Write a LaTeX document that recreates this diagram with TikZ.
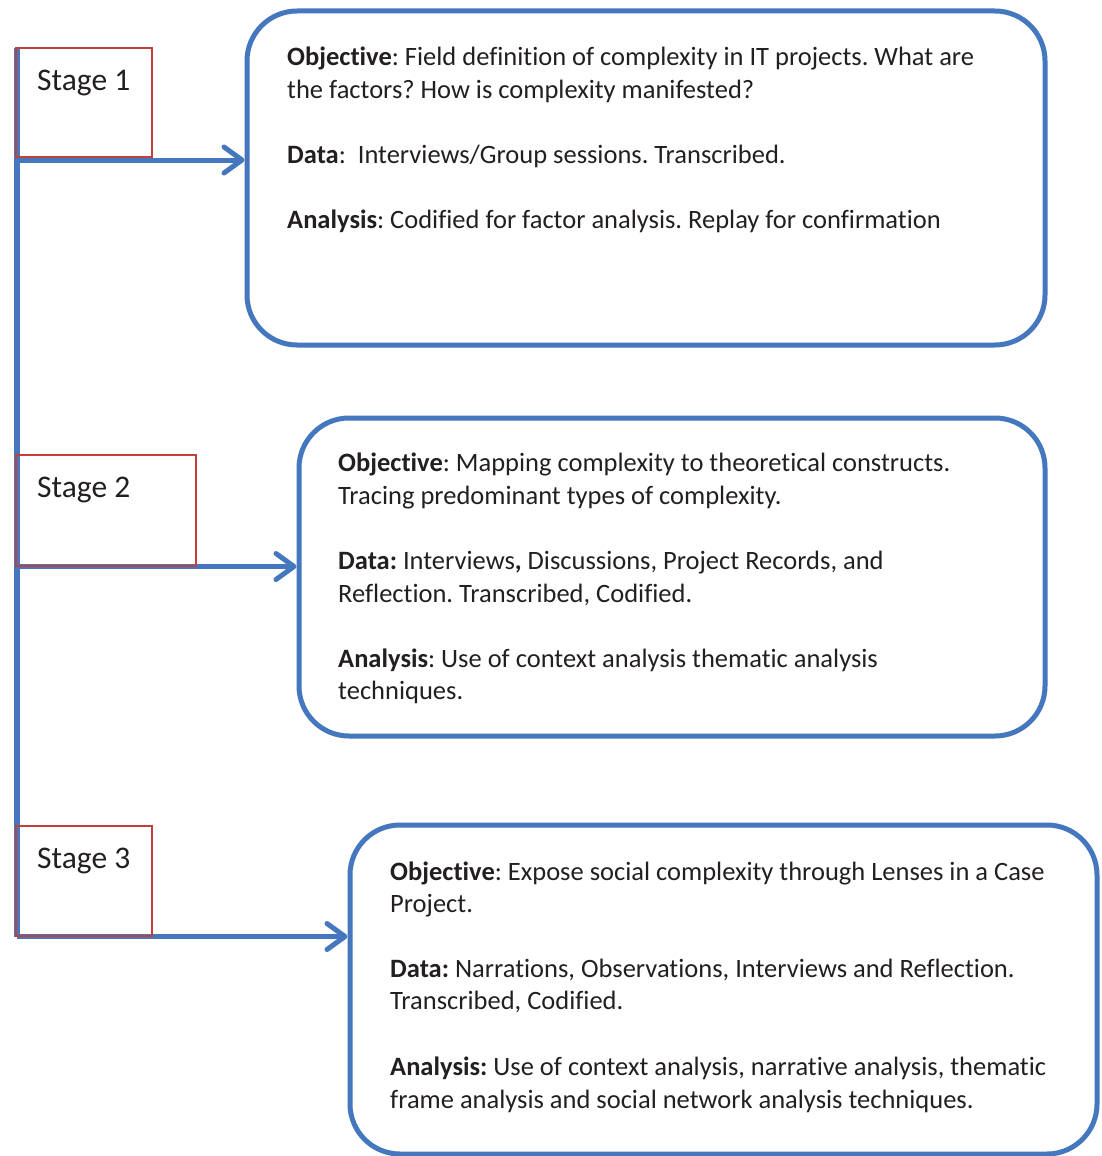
\documentclass[tikz,border=0pt]{standalone}
\usepackage{fontspec}
\setmainfont{Carlito}[Ligatures=NoCommon]
\usetikzlibrary{arrows.meta}
\frenchspacing
\definecolor{flowblue}{RGB}{68,119,190}
\definecolor{stagered}{RGB}{192,64,60}
\definecolor{inkdark}{RGB}{35,31,32}
\tikzset{
  panel/.style={draw=flowblue, line width=5pt, rounded corners=50pt, inner sep=0pt},
  stagebox/.style={draw=stagered, line width=1.5pt, inner sep=0pt},
  flow/.style={draw=flowblue, line width=5pt},
  flowarrow/.style={flow, -{Straight Barb[length=18pt,width=26pt,line cap=round,line join=round]}},
  bodytext/.style={anchor=base west, inner sep=0pt, text=inkdark, font=\fontsize{26.5}{32.5}\selectfont},
  stagetext/.style={anchor=base west, inner sep=0pt, text=inkdark, font=\fontsize{31.5}{38}\selectfont}
}
\begin{document}
\begin{tikzpicture}[x=1pt, y=-1pt]
\useasboundingbox (0,0) rectangle (1101,1156);

% rounded description panels
\node[panel, minimum width=798pt, minimum height=334pt] (box1) at (646,178) {};
\node[panel, minimum width=746pt, minimum height=318pt] (box2) at (672,577) {};
\node[panel, minimum width=747pt, minimum height=329pt] (box3) at (723.5,989.5) {};

% spine and arrows
\coordinate (top) at (17,48);
\coordinate (c1) at (17,160);
\coordinate (c2) at (17,566.5);
\coordinate (c3) at (17,936.5);
\draw[flow, line width=6pt] (top) -- (c3);
\draw[flowarrow] (c1) -- (c1 -| box1.west);
\draw[flowarrow] (c2) -- (c2 -| box2.west);
\draw[flowarrow] (c3) -- (c3 -| box3.west);

% stage labels
\node[stagebox, minimum width=136pt, minimum height=109pt] (s1) at (84,102.5) {};
\node[stagebox, minimum width=180pt, minimum height=111pt] (s2) at (106,510.5) {};
\node[stagebox, minimum width=136pt, minimum height=110pt] (s3) at (84,881) {};
\node[stagetext] (s1t) at (37,90) {Stage 1};
\node[stagetext] (s2t) at (37,497) {Stage 2};
\node[stagetext] (s3t) at (37,868) {Stage 3};

% stage 1 text
\node[bodytext] (a1) at (287,65.5) {\textbf{Objective}: Field definition of complexity in IT projects. What are};
\node[bodytext] (a2) at (287,98.5) {the factors? How is complexity manifested?};
\node[bodytext] (a3) at (287,163.5) {\textbf{Data}:\ \ Interviews/Group sessions. Transcribed.};
\node[bodytext] (a4) at (287,228.5) {\textbf{Analysis}: Codified for factor analysis. Replay for confirmation};

% stage 2 text
\node[bodytext] (b1) at (338,471.5) {\textbf{Objective}: Mapping complexity to theoretical constructs.};
\node[bodytext] (b2) at (338,504.5) {Tracing predominant types of complexity.};
\node[bodytext] (b3) at (338,569.5) {\textbf{Data:} Interviews\textbf{,} Discussions, Project Records, and};
\node[bodytext] (b4) at (338,602.5) {Reflection. Transcribed, Codified.};
\node[bodytext] (b5) at (338,667.5) {\textbf{Analysis}: Use of context analysis thematic analysis};
\node[bodytext] (b6) at (338,699.5) {techniques.};

% stage 3 text
\node[bodytext] (d1) at (390,880.5) {\textbf{Objective}: Expose social complexity through Lenses in a Case};
\node[bodytext] (d2) at (390,912.5) {Project.};
\node[bodytext] (d3) at (390,977.5) {\textbf{Data:} Narrations, Observations, Interviews and Reflection.};
\node[bodytext] (d4) at (390,1009.5) {Transcribed, Codified.};
\node[bodytext] (d5) at (390,1075.5) {\textbf{Analysis:} Use of context analysis, narrative analysis, thematic};
\node[bodytext] (d6) at (390,1108.5) {frame analysis and social network analysis techniques.};
\end{tikzpicture}
\end{document}
